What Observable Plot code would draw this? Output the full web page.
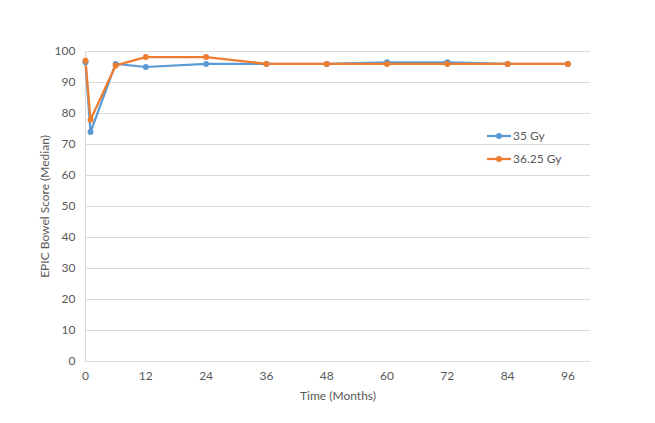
<!DOCTYPE html>
<html>
<head>
<meta charset="utf-8">
<script src="https://cdn.jsdelivr.net/npm/d3@7"></script>
<script src="https://cdn.jsdelivr.net/npm/@observablehq/plot@0.6"></script>
<style>
  body { margin: 0; background: #fff; }
  #wrap { position: relative; width: 655px; height: 423px; font-family: Lato, "Open Sans", sans-serif; }
  #legend { position: absolute; left: 487px; top: 124px; font-size: 12px; color: #595959; }
  #legend .item { display: flex; align-items: center; height: 23px; }
  #legend svg { margin-right: 2px; }
</style>
</head>
<body>
<div id="wrap"><div id="legend"></div></div>
<script>
const months = [0, 1, 6, 12, 24, 36, 48, 60, 72, 84, 96];
const gy35 = [96.5, 74, 96, 95, 96, 96, 96, 96.5, 96.5, 96, 96];
const gy3625 = [97, 78, 95.5, 98.2, 98.2, 96, 96, 96, 96, 96, 96];
const seriesNames = ["35 Gy", "36.25 Gy"];
const seriesColors = ["#5B9BD5", "#ED7D31"];
const xTicks = [0, 12, 24, 36, 48, 60, 72, 84, 96];
const yTicks = [0, 10, 20, 30, 40, 50, 60, 70, 80, 90, 100];

const data = [];
[gy35, gy3625].forEach((vals, si) => {
  vals.forEach((v, i) => data.push({month: months[i], score: v, series: seriesNames[si]}));
});

const chart = Plot.plot({
  width: 655,
  height: 423,
  marginLeft: 85,
  marginRight: 65,
  marginTop: 51,
  marginBottom: 62,
  style: {fontFamily: "Lato, 'Open Sans', sans-serif", fontSize: "12px", color: "#595959", background: "#fff"},
  x: {domain: [0, 100.5], ticks: xTicks, tickSize: 0, tickPadding: 10, label: "Time (Months)", labelAnchor: "center", labelArrow: "none", labelOffset: 38},
  y: {domain: [0, 100], ticks: yTicks, tickSize: 0, tickPadding: 10, label: "EPIC Bowel Score (Median)", labelAnchor: "center", labelArrow: "none", labelOffset: 42},
  color: {domain: seriesNames, range: seriesColors},
  marks: [
    Plot.gridY(yTicks, {stroke: "#d9d9d9", strokeOpacity: 1, strokeWidth: 1}),
    Plot.ruleX([0], {stroke: "#d9d9d9", strokeWidth: 1}),
    Plot.axisX({ticks: xTicks, tickSize: 0, tickPadding: 10, fill: "#595959", label: "Time (Months)", labelAnchor: "center", labelArrow: "none", labelOffset: 38}),
    Plot.axisY({ticks: yTicks, tickSize: 0, tickPadding: 10, fill: "#595959", label: "EPIC Bowel Score (Median)", labelAnchor: "center", labelArrow: "none", labelOffset: 45}),
    Plot.line(data, {x: "month", y: "score", stroke: "series", strokeWidth: 2.25, z: "series"}),
    Plot.dot(data, {x: "month", y: "score", fill: "series", r: 3})
  ]
});
document.getElementById("wrap").appendChild(chart);
chart.style.position = "absolute";
chart.style.left = "0";
chart.style.top = "0";

const legend = document.getElementById("legend");
seriesNames.forEach((name, i) => {
  const item = document.createElement("div");
  item.className = "item";
  item.innerHTML = `<svg width="24" height="10"><line x1="0" y1="5" x2="24" y2="5" stroke="${seriesColors[i]}" stroke-width="2.25"/><circle cx="12" cy="5" r="3" fill="${seriesColors[i]}"/></svg><span>${name}</span>`;
  legend.appendChild(item);
});
document.getElementById("wrap").appendChild(legend);
</script>
</body>
</html>
